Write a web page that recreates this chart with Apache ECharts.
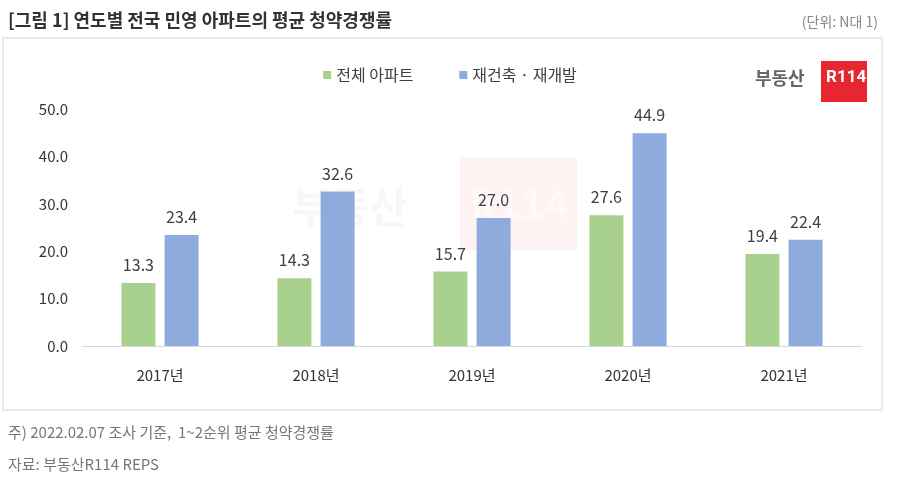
<!DOCTYPE html>
<html>
<head>
<meta charset="utf-8">
<script src="https://cdn.jsdelivr.net/npm/echarts@6/dist/echarts.min.js"></script>
<style>
  html, body { margin: 0; padding: 0; background: #fff; }
  #chart { width: 900px; height: 495px; }
</style>
</head>
<body>
<div id="chart"></div>
<script>
var years = ['2017년', '2018년', '2019년', '2020년', '2021년'];
var allApt = [13.3, 14.3, 15.7, 27.6, 19.4];
var rebuild = [23.4, 32.6, 27.0, 44.9, 22.4];
var seriesNames = ['전체 아파트', '재건축 · 재개발'];

var font = "'Noto Sans CJK KR', 'Noto Sans', sans-serif";

var labelStyle = {
    show: true,
    position: 'top',
    distance: 10,
    fontSize: 16,
    color: '#404040',
    fontFamily: font,
    formatter: function (p) { return p.value.toFixed(1); }
};

var option = {
    animation: false,
    textStyle: { fontFamily: font },
    legend: {
        top: 62,
        left: 'center',
        itemWidth: 8,
        itemHeight: 8,
        itemGap: 46,
        icon: 'rect',
        textStyle: { fontSize: 16, color: '#404040', fontFamily: font },
        data: seriesNames
    },
    grid: { left: 82, right: 38, top: 109, bottom: 149 },
    xAxis: {
        type: 'category',
        data: years,
        axisLine: { lineStyle: { color: '#d9d9d9' } },
        axisTick: { show: false },
        axisLabel: { fontSize: 15, color: '#333', margin: 22, fontFamily: font }
    },
    yAxis: {
        type: 'value',
        min: 0,
        max: 50,
        interval: 10,
        splitLine: { show: false },
        axisLine: { show: false },
        axisTick: { show: false },
        axisLabel: {
            fontSize: 15, color: '#333', margin: 14, fontFamily: font,
            formatter: function (v) { return v.toFixed(1); }
        }
    },
    series: [
        {
            name: seriesNames[0],
            type: 'bar',
            data: allApt,
            barWidth: 34,
            barGap: '27%',
            itemStyle: { color: '#a9d18e' },
            label: labelStyle
        },
        {
            name: seriesNames[1],
            type: 'bar',
            data: rebuild,
            barWidth: 34,
            itemStyle: { color: '#8faadc' },
            label: labelStyle
        }
    ],
    graphic: [
        {
            type: 'rect', z: -10,
            shape: { x: 3, y: 38, width: 879, height: 372 },
            style: { fill: '#fff', stroke: '#e3e3e3', lineWidth: 1.5 }
        },
        {
            type: 'text', left: 8, top: 11,
            style: { text: '[그림 1] 연도별 전국 민영 아파트의 평균 청약경쟁률', fontSize: 18, fontWeight: 'bold', fill: '#333', fontFamily: font }
        },
        {
            type: 'text', right: 22, top: 15,
            style: { text: '(단위: N대 1)', fontSize: 14, fill: '#888', fontFamily: font }
        },
        {
            type: 'text', left: 8, top: 425,
            style: { text: '주) 2022.02.07 조사 기준,  1~2순위 평균 청약경쟁률', fontSize: 15, fill: '#777', fontFamily: font }
        },
        {
            type: 'text', left: 8, top: 457,
            style: { text: '자료: 부동산R114 REPS', fontSize: 15, fill: '#777', fontFamily: font }
        },
        // logo
        {
            type: 'text', left: 755, top: 69,
            style: { text: '부동산', fontSize: 18, fontWeight: 'bold', fill: '#666', fontFamily: font }
        },
        {
            type: 'rect',
            shape: { x: 821, y: 61, width: 46, height: 41 },
            style: { fill: '#e8262f' }
        },
        {
            type: 'text', left: 826, top: 69,
            style: { text: 'R114', fontSize: 17, fontWeight: 'bold', fill: '#fff', fontFamily: "'Liberation Sans Narrow', 'Roboto', sans-serif" }
        },
        // faint watermark
        {
            type: 'group', z: -5,
            children: [
                {
                    type: 'text', left: 292, top: 186,
                    style: { text: '부동산', fontSize: 42, fontWeight: 'bold', fill: 'rgba(120,120,120,0.06)', fontFamily: font }
                },
                {
                    type: 'rect',
                    shape: { x: 460, y: 158, width: 117, height: 92 },
                    style: { fill: 'rgba(232,38,47,0.06)' }
                },
                {
                    type: 'text', left: 470, top: 184,
                    style: { text: 'R114', fontSize: 40, fontWeight: 'bold', fill: 'rgba(255,255,255,0.6)', fontFamily: font }
                }
            ]
        }
    ]
};

var myChart = echarts.init(document.getElementById('chart'));
myChart.setOption(option);
</script>
</body>
</html>
